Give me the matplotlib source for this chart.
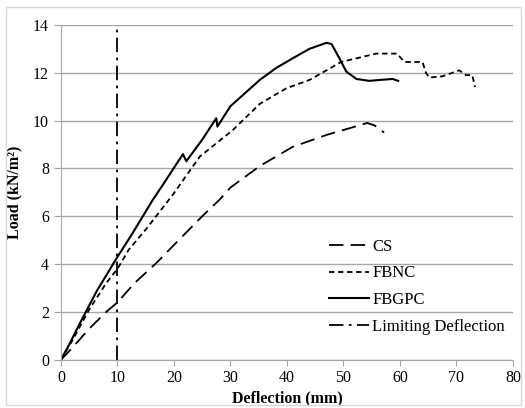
import matplotlib.pyplot as plt

plt.rcParams['font.family'] = ['Liberation Serif', 'DejaVu Serif']

# CS (long dash)
cs_x = [0, 2, 5, 8, 10, 13, 16.9, 20, 25, 28.1, 30, 35.2, 41, 47, 52.8, 54.2, 55.5, 57.2]
cs_y = [0, 0.5, 1.3, 2.0, 2.4, 3.2, 4.05, 4.8, 6.0, 6.7, 7.2, 8.1, 8.9, 9.4, 9.8, 9.9, 9.8, 9.5]

# FBNC (short dash)
nc_x = [0, 2, 5, 8, 10, 12, 15.2, 19.8, 24.6, 30.4, 35.2, 39.9, 44, 49.6, 55.8, 59.5,
        60.8, 64, 64.6, 65.2, 67.5, 70.5, 71.7, 72.8, 73.3]
nc_y = [0, 0.8, 2.1, 3.2, 3.8, 4.6, 5.5, 6.9, 8.5, 9.6, 10.7, 11.35, 11.7, 12.45, 12.8, 12.8,
        12.45, 12.45, 12.0, 11.8, 11.85, 12.1, 11.9, 11.9, 11.4]

# FBGPC (solid)
gp_x = [0, 1.6, 3.4, 6.4, 10, 12.7, 14.5, 16.3, 18, 21.6, 22.2, 25, 27.5, 27.7, 30, 35.2,
        38.1, 41, 44, 47, 47.9, 49.3, 50.5, 52.3, 54.6, 56.5, 58.7, 59.7]
gp_y = [0, 0.7, 1.55, 2.9, 4.3, 5.3, 6.0, 6.7, 7.3, 8.6, 8.3, 9.2, 10.1, 9.75, 10.6, 11.7,
        12.2, 12.6, 13.0, 13.25, 13.2, 12.6, 12.05, 11.74, 11.66, 11.7, 11.74, 11.66]

limit_x = [10, 10]
limit_y = [0, 14]

fig = plt.figure(figsize=(5.25, 4.08), dpi=100)
ax = fig.add_axes([0.116, 0.118, 0.861, 0.821])

ax.plot(cs_x, cs_y, color='black', lw=1.3, dashes=(8, 4), label='CS')
ax.plot(nc_x, nc_y, color='black', lw=1.3, dashes=(3, 2), label='FBNC')
ax.plot(gp_x, gp_y, color='black', lw=1.5, label='FBGPC')
ax.plot(limit_x, limit_y, color='black', lw=1.3, dashes=(8, 3, 1.5, 3), label='Limiting Deflection')

ax.set_xlim(0, 80)
ax.set_ylim(0, 14)
ax.set_xticks(range(0, 81, 10))
ax.set_yticks(range(0, 15, 2))
ax.yaxis.grid(True, color='#a6a6a6', lw=1)
ax.set_axisbelow(True)
for s in ['top', 'right']:
    ax.spines[s].set_visible(False)
for s in ['left', 'bottom']:
    ax.spines[s].set_color('#a6a6a6')
ax.tick_params(axis='x', color='#a6a6a6', length=4, labelsize=11.5)
ax.tick_params(axis='y', color='#a6a6a6', length=5, labelsize=11.5)

ax.set_xlabel('Deflection (mm)', fontweight='bold', fontsize=11.5, labelpad=3)
ax.set_ylabel('Load (kN/m²)', fontweight='bold', fontsize=11.5, labelpad=8)

ax.legend(loc='center left', bbox_to_anchor=(0.56, 0.218), frameon=False, fontsize=12,
          handlelength=2.4, labelspacing=0.65, handletextpad=0.2)

fig.patches.append(plt.Rectangle((0.012, 0.008), 0.98, 0.975, transform=fig.transFigure,
                                 fill=False, edgecolor='#d9d9d9', lw=1))

fig.savefig('out.png', dpi=100)
